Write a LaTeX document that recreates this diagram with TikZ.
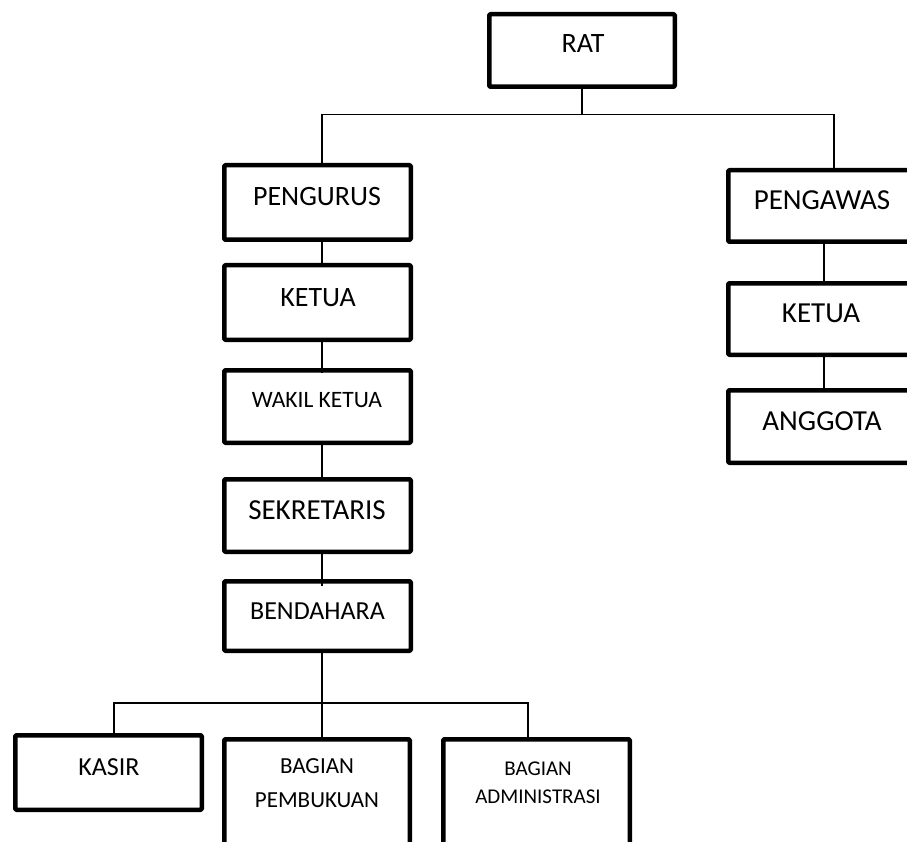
\documentclass[tikz,border=0pt]{standalone}
\usepackage{fontspec}
\setmainfont{Carlito}
\begin{document}
\begin{tikzpicture}[x=1pt,y=-1pt,
  orgbox/.style={draw=black, line width=4.5pt, rounded corners=1pt, line join=round, inner sep=0pt, fill=none},
  lbl/.style={inner sep=0pt, anchor=base, text=black},
  spineline/.style={line width=2.4pt, draw=black},
  thinline/.style={line width=1.5pt, draw=black}]
\useasboundingbox (0,0) rectangle (907,842);
\fill[white] (0,0) rectangle (907,842);
% boxes
\node[orgbox, minimum width=185.5pt, minimum height=72.5pt] (rat) at (582,50.5) {};
\node[orgbox, minimum width=186.5pt, minimum height=74.5pt] (pengurus) at (317.5,202.5) {};
\node[orgbox, minimum width=186.5pt, minimum height=74.5pt] (ketuaL) at (317.5,302.5) {};
\node[orgbox, minimum width=186.5pt, minimum height=72.5pt] (wakil) at (317.5,406.5) {};
\node[orgbox, minimum width=186.5pt, minimum height=72.5pt] (sekretaris) at (317.5,515.5) {};
\node[orgbox, minimum width=186.5pt, minimum height=69.5pt] (bendahara) at (317.5,616) {};
\node[orgbox, minimum width=189.5pt, minimum height=71.5pt] (pengawas) at (823,206) {};
\node[orgbox, minimum width=189.5pt, minimum height=71.5pt] (ketuaR) at (823,319) {};
\node[orgbox, minimum width=189.5pt, minimum height=72.5pt] (anggota) at (823,426.5) {};
\node[orgbox, minimum width=186.5pt, minimum height=74.5pt] (kasir) at (108.5,772.5) {};
\node[orgbox, minimum width=185.5pt, minimum height=158.5pt] (pembukuan) at (317,818.5) {};
\node[orgbox, minimum width=186.5pt, minimum height=158.5pt] (admin) at (536.5,818.5) {};
% labels
\node[lbl, font=\fontsize{28}{34}\selectfont] (rat-t) at (583,53) {RAT};
\node[lbl, font=\fontsize{28}{34}\selectfont] (pengurus-t) at (317,206) {PENGURUS};
\node[lbl, font=\fontsize{28}{34}\selectfont] (ketuaL-t) at (318,306) {KETUA};
\node[lbl, font=\fontsize{23.5}{28}\selectfont] (wakil-t) at (317,407) {WAKIL KETUA};
\node[lbl, font=\fontsize{29}{34}\selectfont] (sekretaris-t) at (317,519) {SEKRETARIS};
\node[lbl, font=\fontsize{26}{32}\selectfont] (bendahara-t) at (317.5,619) {BENDAHARA};
\node[lbl, font=\fontsize{29}{34}\selectfont] (pengawas-t) at (822,210) {PENGAWAS};
\node[lbl, font=\fontsize{29}{34}\selectfont] (ketuaR-t) at (821,322) {KETUA};
\node[lbl, font=\fontsize{29}{34}\selectfont] (anggota-t) at (822,430) {ANGGOTA};
\node[lbl, font=\fontsize{26}{32}\selectfont] (kasir-t) at (109,775) {KASIR};
\node[lbl, font=\fontsize{23}{34}\selectfont] (pembukuan-t) at (317,773)
  {\begin{tabular}[t]{@{}c@{}}BAGIAN\\PEMBUKUAN\end{tabular}};
\node[lbl, font=\fontsize{21}{28}\selectfont] (admin-t) at (538,775)
  {\begin{tabular}[t]{@{}c@{}}BAGIAN\\ADMINISTRASI\end{tabular}};
% helper coordinates
\coordinate (spine) at (322,0);
\coordinate (rdrop) at (834,0);
\coordinate (rcol) at (824,0);
\coordinate (kdrop) at (114,0);
\coordinate (adrop) at (528,0);
\coordinate (topbar) at (0,114.5);
\coordinate (botbar) at (0,703);
% top tree
\draw[thinline] (rat.south) -- (rat.south |- topbar);
\draw[thinline] (pengurus.north -| spine) -- (spine |- topbar) -- (rdrop |- topbar) -- (pengawas.north -| rdrop);
% left column
\draw[spineline] (pengurus.south -| spine) -- (ketuaL.north -| spine);
\draw[spineline] (ketuaL.south -| spine) -- ([yshift=-5pt]wakil.north -| spine);
\draw[spineline] (wakil.south -| spine) -- (sekretaris.north -| spine);
\draw[spineline] (sekretaris.south -| spine) -- ([yshift=-7pt]bendahara.north -| spine);
% right column
\draw[thinline] (pengawas.south -| rcol) -- (ketuaR.north -| rcol);
\draw[thinline] (ketuaR.south -| rcol) -- (anggota.north -| rcol);
% bottom tree
\draw[thinline] (bendahara.south -| spine) -- (pembukuan.north -| spine);
\draw[thinline] (kasir.north -| kdrop) -- (kdrop |- botbar) -- (adrop |- botbar) -- (admin.north -| adrop);
\end{tikzpicture}
\end{document}
